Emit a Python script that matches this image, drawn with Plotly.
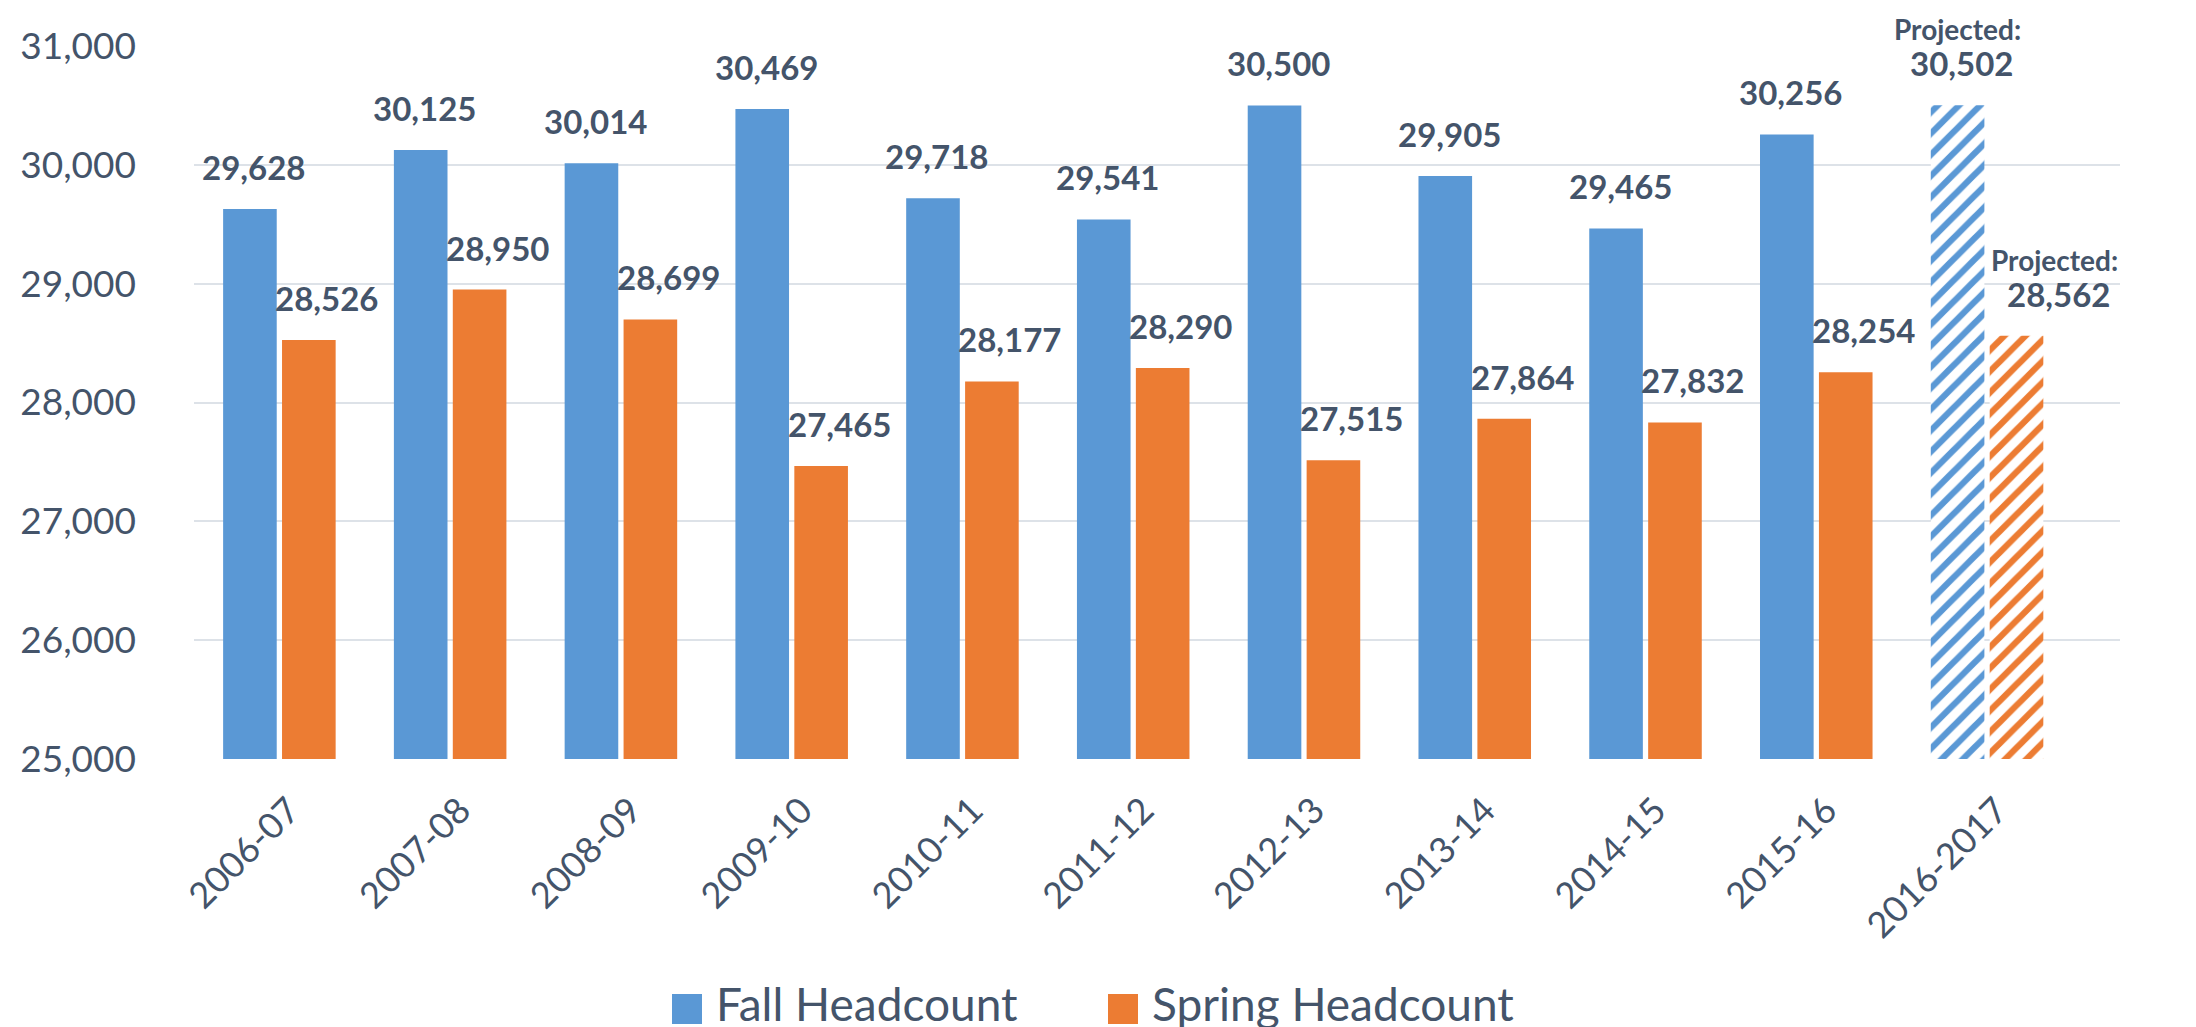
import plotly.graph_objects as go

# ---------------- data ----------------
categories = ["2006-07", "2007-08", "2008-09", "2009-10", "2010-11", "2011-12",
              "2012-13", "2013-14", "2014-15", "2015-16", "2016-2017"]
fall_headcount = [29628, 30125, 30014, 30469, 29718, 29541, 30500, 29905, 29465, 30256, 30502]
spring_headcount = [28526, 28950, 28699, 27465, 28177, 28290, 27515, 27864, 27832, 28254, 28562]
projected_flags = [False] * 10 + [True]
series_names = ["Fall Headcount", "Spring Headcount"]
y_ticks = [25000, 26000, 27000, 28000, 29000, 30000, 31000]
projected_word = "Projected:"

# ---------------- style ----------------
W, H = 2196, 1027
M_L, M_R, M_T, M_B = 186, 84, 38, 276
FONT = "Lato, 'Open Sans', sans-serif"
TXT = "#44546A"
GRID = "#DDE2E8"
BLUE = "#5A98D5"
ORANGE = "#EC7C33"
BARGAP = 0.31
GROUPGAP = 0.09
LABEL_SIZE = 33
LABEL_YSHIFT = 20

fig = go.Figure()
for name, vals, col in [(series_names[0], fall_headcount, BLUE),
                        (series_names[1], spring_headcount, ORANGE)]:
    fig.add_trace(go.Bar(
        name=name, x=categories, y=vals,
        marker=dict(
            color=col, line=dict(width=0),
            pattern=dict(shape=["/" if p else "" for p in projected_flags],
                         fgcolor=col, bgcolor="white", size=15, solidity=0.42,
                         fillmode="replace"),
        ),
        showlegend=False, hoverinfo="x+y",
    ))

# value labels
offset = (1 - BARGAP) / 4.0
annotations = []
for si, (vals, dx, extra_proj) in enumerate([(fall_headcount, 4, 0), (spring_headcount, 18, 24)]):
    sign = -1 if si == 0 else 1
    for i, (v, proj) in enumerate(zip(vals, projected_flags)):
        xs = dx + (extra_proj if proj else 0)
        annotations.append(dict(
            x=i + sign * offset, y=v, xref="x", yref="y",
            text=f"{v:,}", showarrow=False, yanchor="bottom", xanchor="center",
            xshift=xs, yshift=LABEL_YSHIFT,
            font=dict(family=FONT, size=LABEL_SIZE, color=TXT, weight="bold"),
        ))
        if proj:
            annotations.append(dict(
                x=i + sign * offset, y=v, xref="x", yref="y",
                text=projected_word, showarrow=False, yanchor="bottom", xanchor="center",
                xshift=xs - 4, yshift=LABEL_YSHIFT + 37,
                font=dict(family=FONT, size=28, color=TXT, weight="bold"),
            ))

# custom legend (large square swatches as in the reference)
plot_w = W - M_L - M_R
plot_h = H - M_T - M_B
def px_x(px):
    return (px - M_L) / plot_w
def px_y(py):
    return (H - M_B - py) / plot_h

shapes = []
legend_items = [(series_names[0], BLUE, 664), (series_names[1], ORANGE, 1100)]
for name, col, x0 in legend_items:
    shapes.append(dict(type="rect", xref="paper", yref="paper",
                       x0=px_x(x0), x1=px_x(x0 + 30), y0=px_y(1016), y1=px_y(986),
                       fillcolor=col, line=dict(width=0)))
    annotations.append(dict(x=px_x(x0 + 42), y=px_y(996), xref="paper", yref="paper",
                            text=name, showarrow=False, xanchor="left", yanchor="middle",
                            font=dict(family=FONT, size=46, color=TXT)))

fig.update_layout(
    width=W, height=H,
    margin=dict(l=M_L, r=M_R, t=M_T, b=M_B),
    paper_bgcolor="white", plot_bgcolor="white",
    barmode="group", bargap=BARGAP, bargroupgap=GROUPGAP,
    showlegend=False,
    font=dict(family=FONT, color=TXT),
    annotations=annotations, shapes=shapes,
    xaxis=dict(type="category", tickangle=-45,
               tickfont=dict(family=FONT, size=36, color=TXT),
               showgrid=False, showline=False, zeroline=False, ticks="",
               ticklabelstandoff=22, ticklabelshift=10),
    yaxis=dict(range=[y_ticks[0], y_ticks[-1]], tickvals=y_ticks, tickformat=",",
               tickfont=dict(family=FONT, size=37, color=TXT),
               showgrid=True, gridcolor=GRID, gridwidth=2,
               zeroline=False, showline=False, ticks="", ticklabelstandoff=57),
)

fig.write_html("out.html")
